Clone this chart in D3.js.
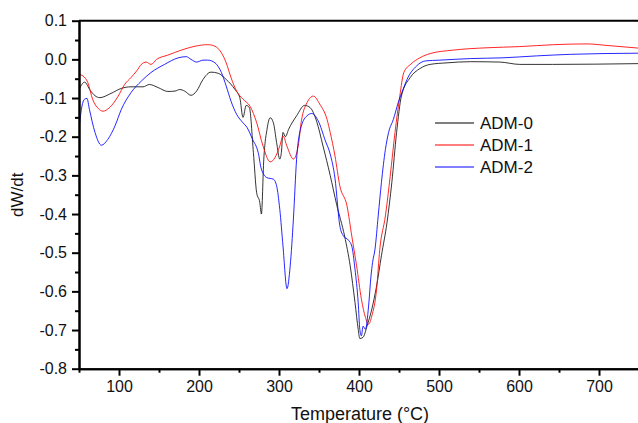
<!DOCTYPE html>
<html>
<head>
<meta charset="utf-8">
<script src="https://cdn.jsdelivr.net/npm/d3@7"></script>
<style>
  body { margin: 0; background: #fff; }
  text { font-family: Arial, "Liberation Sans", sans-serif; fill: #111; }
</style>
</head>
<body>
<div id="chart"></div>
<script>
// series: temperature (°C) and dW/dt
const adm0T = [50, 57, 64, 70, 76, 90, 103, 115, 130, 138, 149, 161, 170, 176, 182, 190, 197, 205, 215, 224, 234, 245, 251, 255, 259, 263, 268, 272, 276, 278, 281, 285, 289, 293, 297, 301, 303, 305, 308, 312, 322, 332, 339, 347, 355, 364, 372, 382, 389, 395, 399, 401, 405, 410, 416, 422, 428, 435, 441, 447, 453, 464, 476, 489, 510, 539, 576, 601, 642, 750];
const adm0V = [-0.078, -0.059, -0.080, -0.094, -0.099, -0.088, -0.075, -0.071, -0.071, -0.065, -0.073, -0.083, -0.082, -0.078, -0.082, -0.093, -0.082, -0.052, -0.033, -0.036, -0.052, -0.078, -0.099, -0.150, -0.119, -0.125, -0.241, -0.344, -0.370, -0.400, -0.258, -0.181, -0.151, -0.164, -0.215, -0.258, -0.240, -0.189, -0.200, -0.181, -0.146, -0.119, -0.125, -0.160, -0.224, -0.300, -0.375, -0.457, -0.534, -0.629, -0.698, -0.722, -0.719, -0.690, -0.646, -0.586, -0.508, -0.422, -0.319, -0.189, -0.095, -0.047, -0.024, -0.013, -0.009, -0.006, -0.007, -0.013, -0.013, -0.011];

const adm1T = [50, 55, 61, 67, 74, 80, 88, 99, 107, 115, 122, 128, 134, 140, 147, 161, 178, 195, 211, 220, 228, 234, 240, 247, 255, 264, 272, 280, 289, 295, 301, 305, 310, 318, 324, 328, 335, 343, 351, 360, 364, 370, 376, 385, 391, 397, 403, 408, 412, 416, 422, 426, 433, 439, 445, 451, 456, 465, 476, 489, 518, 560, 601, 643, 685, 710, 750];
const adm1V = [-0.039, -0.043, -0.060, -0.103, -0.127, -0.134, -0.125, -0.095, -0.065, -0.047, -0.030, -0.013, -0.007, -0.013, 0.000, 0.011, 0.024, 0.034, 0.038, 0.034, 0.017, -0.009, -0.047, -0.082, -0.103, -0.122, -0.163, -0.224, -0.265, -0.254, -0.224, -0.198, -0.225, -0.258, -0.224, -0.159, -0.112, -0.095, -0.116, -0.155, -0.189, -0.250, -0.327, -0.379, -0.457, -0.534, -0.620, -0.667, -0.685, -0.664, -0.594, -0.491, -0.405, -0.302, -0.189, -0.095, -0.034, -0.012, 0.004, 0.015, 0.024, 0.030, 0.033, 0.038, 0.040, 0.036, 0.029];

const adm2T = [50, 53, 57, 60, 63, 70, 78, 86, 95, 103, 115, 128, 140, 157, 174, 184, 190, 197, 205, 211, 220, 228, 234, 240, 247, 255, 260, 267, 274, 278, 285, 293, 297, 301, 305, 310, 314, 318, 322, 328, 335, 341, 349, 358, 364, 370, 376, 380, 387, 391, 395, 399, 401, 403, 405, 408, 412, 415, 417, 420, 424, 428, 433, 437, 443, 449, 455, 460, 472, 483, 501, 539, 580, 622, 664, 705, 750];
const adm2V = [-0.181, -0.129, -0.103, -0.101, -0.129, -0.189, -0.222, -0.207, -0.172, -0.129, -0.086, -0.056, -0.034, -0.013, 0.004, 0.007, 0.000, -0.007, -0.002, -0.002, -0.009, -0.034, -0.069, -0.108, -0.142, -0.164, -0.176, -0.207, -0.241, -0.284, -0.306, -0.310, -0.327, -0.388, -0.483, -0.593, -0.534, -0.413, -0.258, -0.172, -0.146, -0.140, -0.159, -0.211, -0.245, -0.308, -0.430, -0.455, -0.468, -0.483, -0.543, -0.629, -0.698, -0.715, -0.690, -0.698, -0.638, -0.560, -0.525, -0.491, -0.405, -0.319, -0.233, -0.189, -0.155, -0.112, -0.078, -0.052, -0.017, -0.004, -0.002, 0.002, 0.004, 0.009, 0.013, 0.015, 0.016];

const seriesNames = ["ADM-0", "ADM-1", "ADM-2"];
const seriesColors = ["#000000", "#ff0000", "#0000ff"];

const xTicks = [100, 200, 300, 400, 500, 600, 700];
const xMinorTicks = [50, 150, 250, 350, 450, 550, 650, 750];
const yTicks = [0.1, 0.0, -0.1, -0.2, -0.3, -0.4, -0.5, -0.6, -0.7, -0.8];
const yTickLabels = ["0.1", "0.0", "-0.1", "-0.2", "-0.3", "-0.4", "-0.5", "-0.6", "-0.7", "-0.8"];
const yMinorTicks = [0.05, -0.05, -0.15, -0.25, -0.35, -0.45, -0.55, -0.65, -0.75];

const width = 638, height = 423;
const plot = { left: 79, right: 639, top: 20.7, bottom: 368.7 };

const svg = d3.select("#chart").append("svg")
    .attr("width", width)
    .attr("height", height);

const x = d3.scaleLinear().domain([50, 750]).range([plot.left, plot.right]);
const y = d3.scaleLinear().domain([-0.8, 0.1]).range([plot.bottom, plot.top]);

svg.append("clipPath").attr("id", "clip")
  .append("rect")
    .attr("x", plot.left).attr("y", plot.top)
    .attr("width", plot.right - plot.left)
    .attr("height", plot.bottom - plot.top);

// curves
const line = d3.line()
    .x(d => x(d[0]))
    .y(d => y(d[1]))
    .curve(d3.curveMonotoneX);

const series = [
    d3.zip(adm0T, adm0V),
    d3.zip(adm1T, adm1V),
    d3.zip(adm2T, adm2V),
];

svg.append("g")
    .attr("clip-path", "url(#clip)")
  .selectAll("path")
  .data(series)
  .enter().append("path")
    .attr("d", line)
    .attr("fill", "none")
    .attr("stroke", (d, i) => seriesColors[i])
    .attr("stroke-width", 1)
    .attr("stroke-opacity", (d, i) => i === 0 ? 0.8 : 0.85);

// top frame
svg.append("line")
    .attr("x1", plot.left).attr("x2", plot.right)
    .attr("y1", plot.top).attr("y2", plot.top)
    .attr("stroke", "#000").attr("stroke-width", 2);

// x axis
svg.append("g")
    .attr("transform", `translate(0, ${plot.bottom})`)
    .call(d3.axisBottom(x).tickValues(xTicks).tickSize(7).tickSizeOuter(0).tickPadding(5));
svg.append("g")
    .attr("transform", `translate(0, ${plot.bottom})`)
    .call(d3.axisBottom(x).tickValues(xMinorTicks).tickSize(4).tickSizeOuter(0).tickFormat(""));

// y axis
svg.append("g")
    .attr("transform", `translate(${plot.left}, 0)`)
    .call(d3.axisLeft(y).tickValues(yTicks).tickSize(7).tickSizeOuter(0).tickPadding(5)
        .tickFormat((d, i) => yTickLabels[i]));
svg.append("g")
    .attr("transform", `translate(${plot.left}, 0)`)
    .call(d3.axisLeft(y).tickValues(yMinorTicks).tickSize(4).tickSizeOuter(0).tickFormat(""));

svg.selectAll(".domain").attr("stroke", "#000").attr("stroke-width", 2);
svg.selectAll(".tick line").attr("stroke", "#000").attr("stroke-width", 2);
svg.selectAll(".tick text")
    .attr("font-size", 16)
    .attr("font-family", "Arial, 'Liberation Sans', sans-serif")
    .attr("fill", "#111");

// axis titles
svg.append("text")
    .attr("x", 360)
    .attr("y", 420)
    .attr("text-anchor", "middle")
    .attr("font-size", 18)
    .text("Temperature (°C)");

svg.append("text")
    .attr("transform", `translate(23, ${(plot.top + plot.bottom) / 2}) rotate(-90)`)
    .attr("text-anchor", "middle")
    .attr("font-size", 17)
    .text("dW/dt");

// legend
const legend = svg.append("g").attr("transform", "translate(435, 123)");
seriesNames.forEach((name, i) => {
    const row = legend.append("g").attr("transform", `translate(0, ${i * 22})`);
    row.append("line")
        .attr("x1", 0).attr("x2", 39)
        .attr("stroke", seriesColors[i])
        .attr("stroke-width", 1.2);
    row.append("text")
        .attr("x", 45)
        .attr("dy", "0.35em")
        .attr("font-size", 17)
        .text(name);
});
</script>
</body>
</html>
